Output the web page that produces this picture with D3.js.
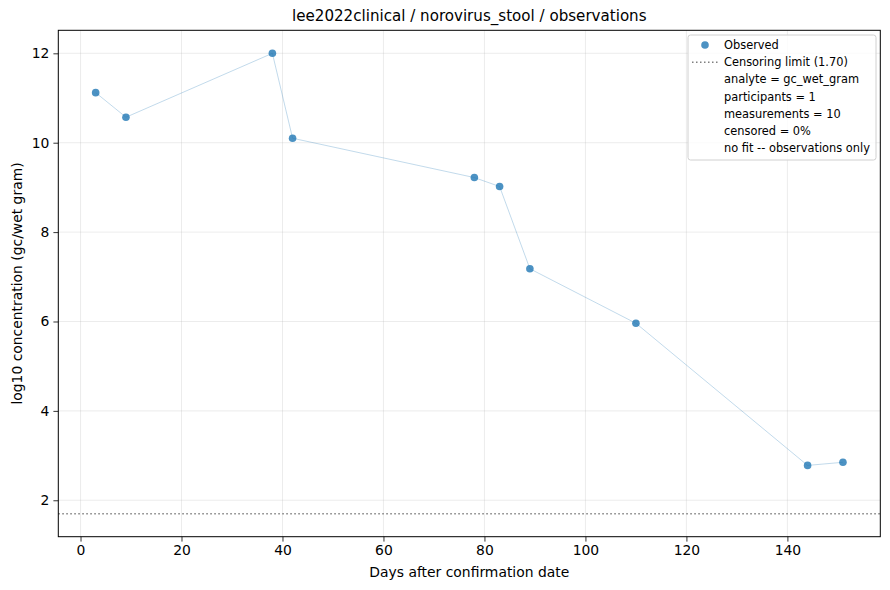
<!DOCTYPE html>
<html>
<head>
<meta charset="utf-8">
<script src="https://cdn.jsdelivr.net/npm/d3@7"></script>
<style>
	body{margin:0;background:#fff;}
	text{font-family:"DejaVu Sans",sans-serif;fill:#000;}
</style>
</head>
<body>
<div id="chart"></div>
<script>
// observed data
var days=[3,9,38,42,78,83,89,110,144,151];
var log10Conc=[11.12,10.57,12.0,10.1,9.22,9.02,7.18,5.96,2.78,2.85];
var censorLimit=1.70;
var xTicks=[0,20,40,60,80,100,120,140];
var yTicks=[2,4,6,8,10,12];
var legendLabels=["Observed","Censoring limit (1.70)","analyte = gc_wet_gram","participants = 1","measurements = 10","censored = 0%","no fit -- observations only"];

var W=890,H=590;
var m={left:58.3,right:880.3,top:30.3,bottom:536.7};
var dotColor='#1f77b4';

var svg=d3.select("#chart").append("svg").attr("width",W).attr("height",H);

// matplotlib style 5% margins
var xMin=d3.min(days),xMax=d3.max(days),xPad=(xMax-xMin)*0.05;
var yMin=Math.min(censorLimit,d3.min(log10Conc)),yMax=d3.max(log10Conc),yPad=(yMax-yMin)*0.05;

var x=d3.scaleLinear().domain([xMin-xPad,xMax+xPad]).range([m.left,m.right]);
var y=d3.scaleLinear().domain([yMin-yPad,yMax+yPad]).range([m.bottom,m.top]);

// grid
var grid=svg.append("g");
grid.selectAll("line.gx").data(xTicks).enter().append("line")
	.attr("x1",function(d){return x(d);}).attr("x2",function(d){return x(d);})
	.attr("y1",m.top).attr("y2",m.bottom)
	.attr("stroke","#b0b0b0").attr("stroke-opacity",0.3).attr("stroke-width",0.8);
grid.selectAll("line.gy").data(yTicks).enter().append("line")
	.attr("y1",function(d){return y(d);}).attr("y2",function(d){return y(d);})
	.attr("x1",m.left).attr("x2",m.right)
	.attr("stroke","#b0b0b0").attr("stroke-opacity",0.3).attr("stroke-width",0.8);

// censoring line
svg.append("line")
	.attr("x1",m.left).attr("x2",m.right)
	.attr("y1",y(censorLimit)).attr("y2",y(censorLimit))
	.attr("stroke","#808080").attr("stroke-width",1.5).attr("stroke-dasharray","1.5,2.5");

// connecting line
var pts=days.map(function(d,i){return [d,log10Conc[i]];});
svg.append("path")
	.attr("d",d3.line().x(function(d){return x(d[0]);}).y(function(d){return y(d[1]);})(pts))
	.attr("fill","none").attr("stroke",dotColor).attr("stroke-opacity",0.3).attr("stroke-width",0.9);

svg.selectAll("circle.obs").data(pts).enter().append("circle")
	.attr("class","obs")
	.attr("cx",function(d){return x(d[0]);})
	.attr("cy",function(d){return y(d[1]);})
	.attr("r",3.8)
	.attr("fill",dotColor).attr("fill-opacity",0.8);

// axes
var xAxis=svg.append("g").attr("transform","translate(0,"+m.bottom+")")
	.call(d3.axisBottom(x).tickValues(xTicks).tickSize(4.9).tickPadding(4));
var yAxis=svg.append("g").attr("transform","translate("+m.left+",0)")
	.call(d3.axisLeft(y).tickValues(yTicks).tickSize(4.9).tickPadding(4));
[xAxis,yAxis].forEach(function(a){
	a.select(".domain").remove();
	a.selectAll("text").attr("font-size",13.9).attr("font-family","DejaVu Sans");
	a.selectAll("line").attr("stroke","#000").attr("stroke-width",0.8);
});
xAxis.selectAll("text").attr("dy","0.71em");

// frame
svg.append("rect")
	.attr("x",m.left).attr("y",m.top)
	.attr("width",m.right-m.left).attr("height",m.bottom-m.top)
	.attr("fill","none").attr("stroke","#000").attr("stroke-width",1);

// labels
svg.append("text").attr("x",(m.left+m.right)/2).attr("y",m.top-9)
	.attr("text-anchor","middle").attr("font-size",15.1)
	.text("lee2022clinical / norovirus_stool / observations");
svg.append("text").attr("x",(m.left+m.right)/2).attr("y",577)
	.attr("text-anchor","middle").attr("font-size",13.9)
	.text("Days after confirmation date");
svg.append("text")
	.attr("transform","translate(22,"+((m.top+m.bottom)/2)+") rotate(-90)")
	.attr("text-anchor","middle").attr("font-size",13.9)
	.text("log10 concentration (gc/wet gram)");

// legend
var lg=svg.append("g").attr("transform","translate(688,35)");
lg.append("rect").attr("width",188).attr("height",125).attr("rx",2.5)
	.attr("fill","#fff").attr("fill-opacity",0.8)
	.attr("stroke","#d0d0d0").attr("stroke-width",1);
var rowY=function(i){return 10+i*17.2;};
lg.selectAll("text").data(legendLabels).enter().append("text")
	.attr("x",36).attr("y",function(d,i){return rowY(i);})
	.attr("dominant-baseline","central").attr("font-size",11.4)
	.text(function(d){return d;});
lg.append("circle").attr("cx",17).attr("cy",rowY(0)).attr("r",3.8)
	.attr("fill",dotColor).attr("fill-opacity",0.8);
lg.append("line").attr("x1",4).attr("x2",31).attr("y1",rowY(1)).attr("y2",rowY(1))
	.attr("stroke","#808080").attr("stroke-width",1.5).attr("stroke-dasharray","1.5,2.5");
</script>
</body>
</html>
